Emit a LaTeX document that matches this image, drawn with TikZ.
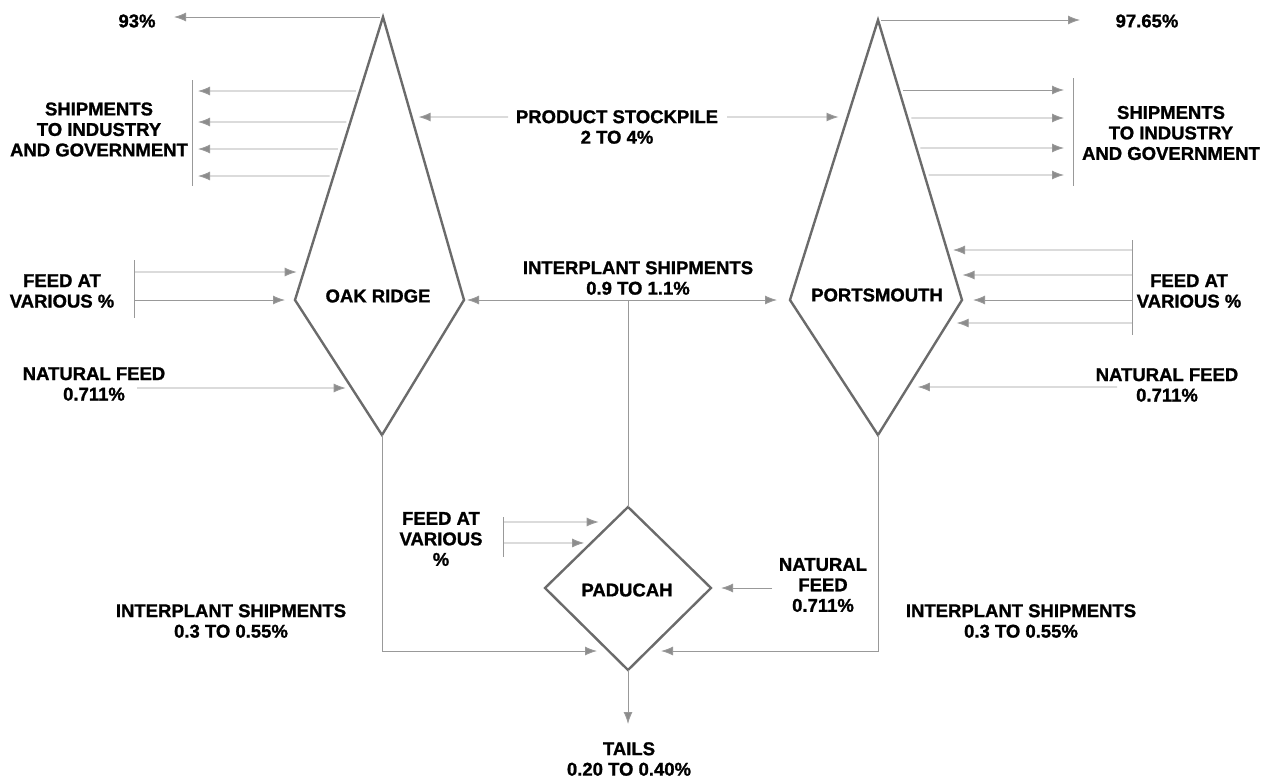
\documentclass[tikz,border=0pt]{standalone}
\usepackage{fontspec}
\setmainfont{Liberation Sans}[BoldFeatures={FakeBold=1.2}]
\usetikzlibrary{arrows.meta,calc}
\begin{document}
\begin{tikzpicture}[x=1pt,y=-1pt,
  lbl/.style={font=\bfseries\fontsize{18.5}{20.5}\selectfont, align=center, inner sep=0pt},
  plant/.style={draw=black!58, line width=2.4pt, line join=miter},
  flow/.style={draw=black!40, line width=0.9pt, -{Latex[length=12pt,width=9pt,fill=black!45]}},
  flow2/.style={draw=black!40, line width=0.9pt, {Latex[length=12pt,width=9pt,fill=black!45]}-{Latex[length=12pt,width=9pt,fill=black!45]}},
  plain/.style={draw=black!40, line width=0.9pt},
]
\useasboundingbox (0,0) rectangle (1263,777);

% ---- plants ----
\coordinate (orT) at (383,17);
\coordinate (orL) at (295,300);
\coordinate (orR) at (464,300);
\coordinate (orB) at (382,435);
\draw[plant] (orT) -- (orR) -- (orB) -- (orL) -- cycle;
\node[lbl] (orLab) at (378,296) {OAK RIDGE};

\coordinate (poT) at (878,20);
\coordinate (poL) at (790,300);
\coordinate (poR) at (962,300);
\coordinate (poB) at (878,435);
\draw[plant] (poT) -- (poR) -- (poB) -- (poL) -- cycle;
\node[lbl] (poLab) at (877,295) {PORTSMOUTH};

\coordinate (paT) at (628,507);
\coordinate (paL) at (545,588);
\coordinate (paR) at (711,588);
\coordinate (paB) at (628,670);
\draw[plant] (paT) -- (paR) -- (paB) -- (paL) -- cycle;
\node[lbl] (paLab) at (627,590) {PADUCAH};

% ---- labels ----
\node[lbl] (t93) at (137,21) {93\%};
\node[lbl] (t97) at (1147,21) {97.65\%};
\node[lbl] (shL) at (99,129.5) {SHIPMENTS\\TO INDUSTRY\\AND GOVERNMENT};
\node[lbl] (shR) at (1171,133) {SHIPMENTS\\TO INDUSTRY\\AND GOVERNMENT};
\node[lbl] (ps) at (617,127) {PRODUCT STOCKPILE\\2 TO 4\%};
\node[lbl] (fL) at (62,291) {FEED AT\\VARIOUS \%};
\node[lbl] (fR) at (1189,291) {FEED AT\\VARIOUS \%};
\node[lbl] (nL) at (94,384) {NATURAL FEED\\0.711\%};
\node[lbl] (nR) at (1167,385) {NATURAL FEED\\0.711\%};
\node[lbl] (ip) at (638,278) {INTERPLANT SHIPMENTS\\0.9 TO 1.1\%};
\node[lbl] (ipL) at (231,621) {INTERPLANT SHIPMENTS\\0.3 TO 0.55\%};
\node[lbl] (ipR) at (1021,621) {INTERPLANT SHIPMENTS\\0.3 TO 0.55\%};
\node[lbl] (fP) at (441,539) {FEED AT\\VARIOUS\\\%};
\node[lbl] (nP) at (823,585) {NATURAL\\FEED\\0.711\%};
\node[lbl] (tails) at (629,759) {TAILS\\0.20 TO 0.40\%};

% ---- top products ----
\coordinate (c93) at (174,17);
\coordinate (c97) at (1080,20);
\draw[flow, shorten <=3pt] (orT) -- (c93);
\draw[flow, shorten <=3pt] (poT) -- (c97);

% ---- shipments left ----
\coordinate (blT) at (192,80);
\coordinate (blB) at (192,186);
\draw[plain] (blT) -- (blB);
\coordinate (sl1) at ($(orT)!0.2615!(orL)$);
\coordinate (sl2) at ($(orT)!0.3710!(orL)$);
\coordinate (sl3) at ($(orT)!0.4664!(orL)$);
\coordinate (sl4) at ($(orT)!0.5618!(orL)$);
\coordinate (bl1) at (198,91);
\coordinate (bl2) at (198,122);
\coordinate (bl3) at (198,149);
\coordinate (bl4) at (198,176);
\foreach \i in {1,2,3,4} \draw[flow, shorten <=4pt] (sl\i) -- (bl\i);

% ---- shipments right ----
\coordinate (brT) at (1073,78);
\coordinate (brB) at (1073,186);
\draw[plain] (brT) -- (brB);
\coordinate (sr1) at ($(poT)!0.25!(poR)$);
\coordinate (sr2) at ($(poT)!0.35!(poR)$);
\coordinate (sr3) at ($(poT)!0.4571!(poR)$);
\coordinate (sr4) at ($(poT)!0.5536!(poR)$);
\coordinate (br1) at (1064,90);
\coordinate (br2) at (1064,118);
\coordinate (br3) at (1064,148);
\coordinate (br4) at (1064,175);
\foreach \i in {1,2,3,4} \draw[flow, shorten <=4pt] (sr\i) -- (br\i);

% ---- product stockpile ----
\coordinate (psA) at (508,117);
\coordinate (psB) at (727,117);
\coordinate (psOR) at ($(orT)!0.3534!(orR)$);
\coordinate (psPO) at ($(poT)!0.3464!(poL)$);
\draw[flow, shorten >=7pt] (psA) -- (psOR);
\draw[flow, shorten >=9pt] (psB) -- (psPO);

% ---- feed at various (Oak Ridge) ----
\coordinate (flT) at (134,260);
\coordinate (flB) at (134,318);
\draw[plain] (flT) -- (flB);
\coordinate (fl1) at (134,272);
\coordinate (fl2) at (134,300);
\coordinate (eo1) at ($(orT)!0.9011!(orL)$);
\draw[flow, shorten >=7pt] (fl1) -- (eo1);
\draw[flow, shorten >=10pt] (fl2) -- (orL);

% ---- natural feed (Oak Ridge) ----
\coordinate (nl0) at (137,388);
\coordinate (eo2) at ($(orL)!0.6519!(orB)$);
\draw[flow, shorten >=6pt] (nl0) -- (eo2);

% ---- feed at various (Portsmouth) ----
\coordinate (frT) at (1132,240);
\coordinate (frB) at (1132,335);
\draw[plain] (frT) -- (frB);
\coordinate (fr1) at (1132,250);
\coordinate (fr2) at (1132,275);
\coordinate (fr3) at (1132,300);
\coordinate (fr4) at (1132,323);
\coordinate (ep1) at ($(poT)!0.8214!(poR)$);
\coordinate (ep2) at ($(poT)!0.9107!(poR)$);
\coordinate (ep4) at ($(poR)!0.1704!(poB)$);
\draw[flow, shorten >=6pt] (fr1) -- (ep1);
\draw[flow, shorten >=8pt] (fr2) -- (ep2);
\draw[flow, shorten >=11pt] (fr3) -- (poR);
\draw[flow, shorten >=9pt] (fr4) -- (ep4);

% ---- natural feed (Portsmouth) ----
\coordinate (nr0) at (1117,387);
\coordinate (ep5) at ($(poR)!0.6444!(poB)$);
\draw[flow, shorten >=10pt] (nr0) -- (ep5);

% ---- interplant 0.9 to 1.1 ----
\draw[flow2, shorten <=3pt, shorten >=13pt] (orR) -- (poL);
\coordinate (jn) at (628,300);
\draw[plain] (jn) -- (paT);

% ---- interplant to Paducah ----
\coordinate (paIL) at (597,651);
\coordinate (paIR) at (661,651);
\draw[flow] (orB) |- (paIL);
\draw[flow] (poB) |- (paIR);

% ---- feed at various (Paducah) ----
\coordinate (fpT) at (503,517);
\coordinate (fpB) at (503,557);
\draw[plain] (fpT) -- (fpB);
\coordinate (fp1) at (503,522);
\coordinate (fp2) at (503,543);
\coordinate (ea1) at ($(paT)!0.185!(paL)$);
\coordinate (ea2) at ($(paT)!0.444!(paL)$);
\draw[flow, shorten >=14pt] (fp1) -- (ea1);
\draw[flow, shorten >=7pt] (fp2) -- (ea2);

% ---- natural feed (Paducah) ----
\coordinate (np0) at (772,588);
\draw[flow, shorten >=10pt] (np0) -- (paR);

% ---- tails ----
\coordinate (tl) at (628,724);
\draw[flow] (paB) -- (tl);
\end{tikzpicture}
\end{document}
